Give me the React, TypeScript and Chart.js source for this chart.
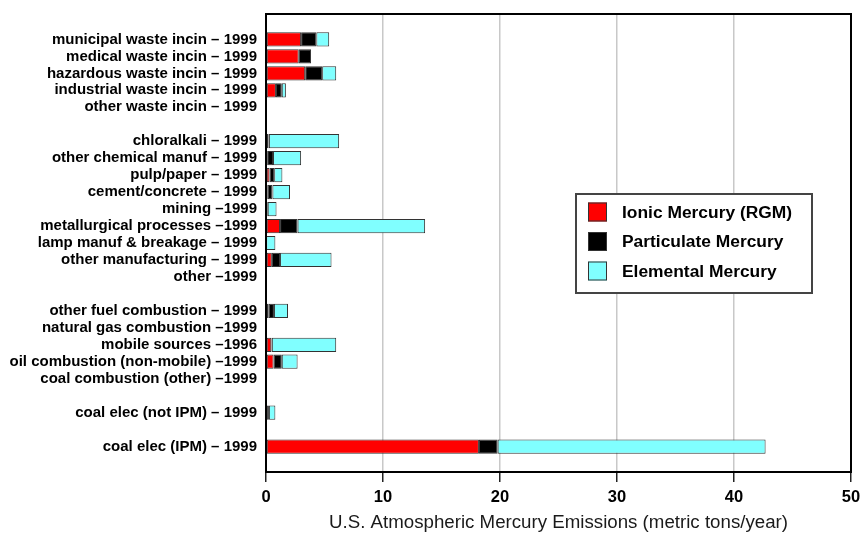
import React, { useEffect, useRef } from 'react';
import { Chart, registerables } from 'chart.js';

Chart.register(...registerables);

const categories = [
  '',
  'municipal waste incin – 1999',
  'medical waste incin – 1999',
  'hazardous waste incin – 1999',
  'industrial waste incin – 1999',
  'other waste incin – 1999',
  '',
  'chloralkali – 1999',
  'other chemical manuf – 1999',
  'pulp/paper – 1999',
  'cement/concrete – 1999',
  'mining –1999',
  'metallurgical processes –1999',
  'lamp manuf & breakage – 1999',
  'other manufacturing – 1999',
  'other –1999',
  '',
  'other fuel combustion – 1999',
  'natural gas combustion –1999',
  'mobile sources –1996',
  'oil combustion (non-mobile) –1999',
  'coal combustion (other) –1999',
  '',
  'coal elec (not IPM) – 1999',
  '',
  'coal elec (IPM) – 1999',
  '',
];

const ionic = [null, 3.0, 2.8, 3.35, 0.85, 0, null, 0.2, 0.1, 0.3, 0.15, 0.05, 1.2, 0, 0.5, 0, null, 0.23, 0, 0.45, 0.65, 0, null, 0.05, null, 18.2, null];
const particulate = [null, 1.3, 1.05, 1.45, 0.5, 0, null, 0.05, 0.5, 0.4, 0.4, 0.1, 1.5, 0.02, 0.7, 0.08, null, 0.45, 0, 0.05, 0.7, 0.08, null, 0.2, null, 1.6, null];
const elemental = [null, 1.1, 0, 1.2, 0.35, 0, null, 6.0, 2.4, 0.7, 1.5, 0.75, 10.9, 0.78, 4.4, 0, null, 1.2, 0, 5.5, 1.35, 0, null, 0.55, null, 22.9, null];

const seriesLabels = ['Ionic Mercury (RGM)', 'Particulate Mercury', 'Elemental Mercury'];
const seriesColors = ['#ff0000', '#000000', '#80ffff'];

const xTitle = 'U.S. Atmospheric Mercury Emissions (metric tons/year)';

const FONT = '"Liberation Sans", Arial, sans-serif';

const framePlugin = {
  id: 'frameAndLegend',
  afterDraw(chart: any) {
    const { ctx, chartArea } = chart;
    ctx.save();
    ctx.strokeStyle = '#000';
    ctx.lineWidth = 2;
    ctx.strokeRect(chartArea.left, chartArea.top, chartArea.right - chartArea.left, chartArea.bottom - chartArea.top);

    // legend box
    const bx = 576, by = 194, bw = 236, bh = 99;
    ctx.fillStyle = '#fff';
    ctx.fillRect(bx, by, bw, bh);
    ctx.strokeStyle = '#444';
    ctx.lineWidth = 2;
    ctx.strokeRect(bx, by, bw, bh);
    ctx.font = 'bold 17.4px ' + FONT;
    ctx.textBaseline = 'middle';
    ctx.textAlign = 'left';
    chart.data.datasets.forEach((ds: any, i: number) => {
      const cy = 212 + i * 29.5;
      ctx.fillStyle = ds.backgroundColor;
      ctx.fillRect(588, cy - 9.5, 19, 19);
      ctx.strokeStyle = '#333';
      ctx.lineWidth = 1;
      ctx.strokeRect(588.5, cy - 9, 18, 18);
      ctx.fillStyle = '#000';
      ctx.fillText(ds.label, 622, cy + 1);
    });
    ctx.restore();
  },
};

export default function App() {
  const ref = useRef<HTMLCanvasElement>(null);
  useEffect(() => {
    if (!ref.current) return;
    const datasets = [ionic, particulate, elemental].map((d, i) => ({
      label: seriesLabels[i],
      data: d,
      backgroundColor: seriesColors[i],
      borderColor: '#333',
      borderWidth: 1,
      borderSkipped: false,
      categoryPercentage: 1,
      barPercentage: 0.84,
    }));
    const chart = new Chart(ref.current, {
      type: 'bar',
      data: { labels: categories, datasets },
      plugins: [framePlugin],
      options: {
        indexAxis: 'y',
        animation: false,
        responsive: false,
        layout: { padding: { left: 0, right: 12, top: 14, bottom: 0 } },
        plugins: { legend: { display: false }, tooltip: { enabled: false } },
        scales: {
          x: {
            stacked: true,
            min: 0,
            max: 50,
            ticks: {
              stepSize: 10,
              color: '#000',
              padding: 6,
              font: { family: FONT, size: 16.5, weight: 'bold' },
            },
            grid: {
              color: (c: any) => (c.tick && (c.tick.value === 0 || c.tick.value === 50) ? 'rgba(0,0,0,0)' : '#c8c8c8'),
              tickColor: '#222',
              tickLength: 10,
              lineWidth: 1.5,
            },
            border: { display: true, color: '#000', width: 2 },
            title: {
              display: true,
              text: xTitle,
              color: '#1a1a1a',
              font: { family: FONT, size: 18.7, weight: 'normal' },
              padding: { top: 0, bottom: 1 },
            },
            afterFit: (s: any) => { s.height = 63; s.paddingLeft = 0; s.paddingRight = 0; },
          },
          y: {
            stacked: true,
            ticks: {
              autoSkip: false,
              color: '#000',
              padding: 9,
              font: { family: FONT, size: 15, weight: 'bold' },
            },
            grid: { display: false, drawTicks: false, tickLength: 0 },
            border: { display: true, color: '#000', width: 2 },
            afterFit: (s: any) => { s.width = 266; s.paddingTop = 0; s.paddingBottom = 0; },
          },
        },
      },
    });
    return () => chart.destroy();
  }, []);
  return (
    <div style={{ position: 'absolute', left: 0, top: 0, width: 863, height: 535, background: '#fff' }}>
      <canvas ref={ref} width={863} height={535} style={{ display: 'block' }} />
    </div>
  );
}
